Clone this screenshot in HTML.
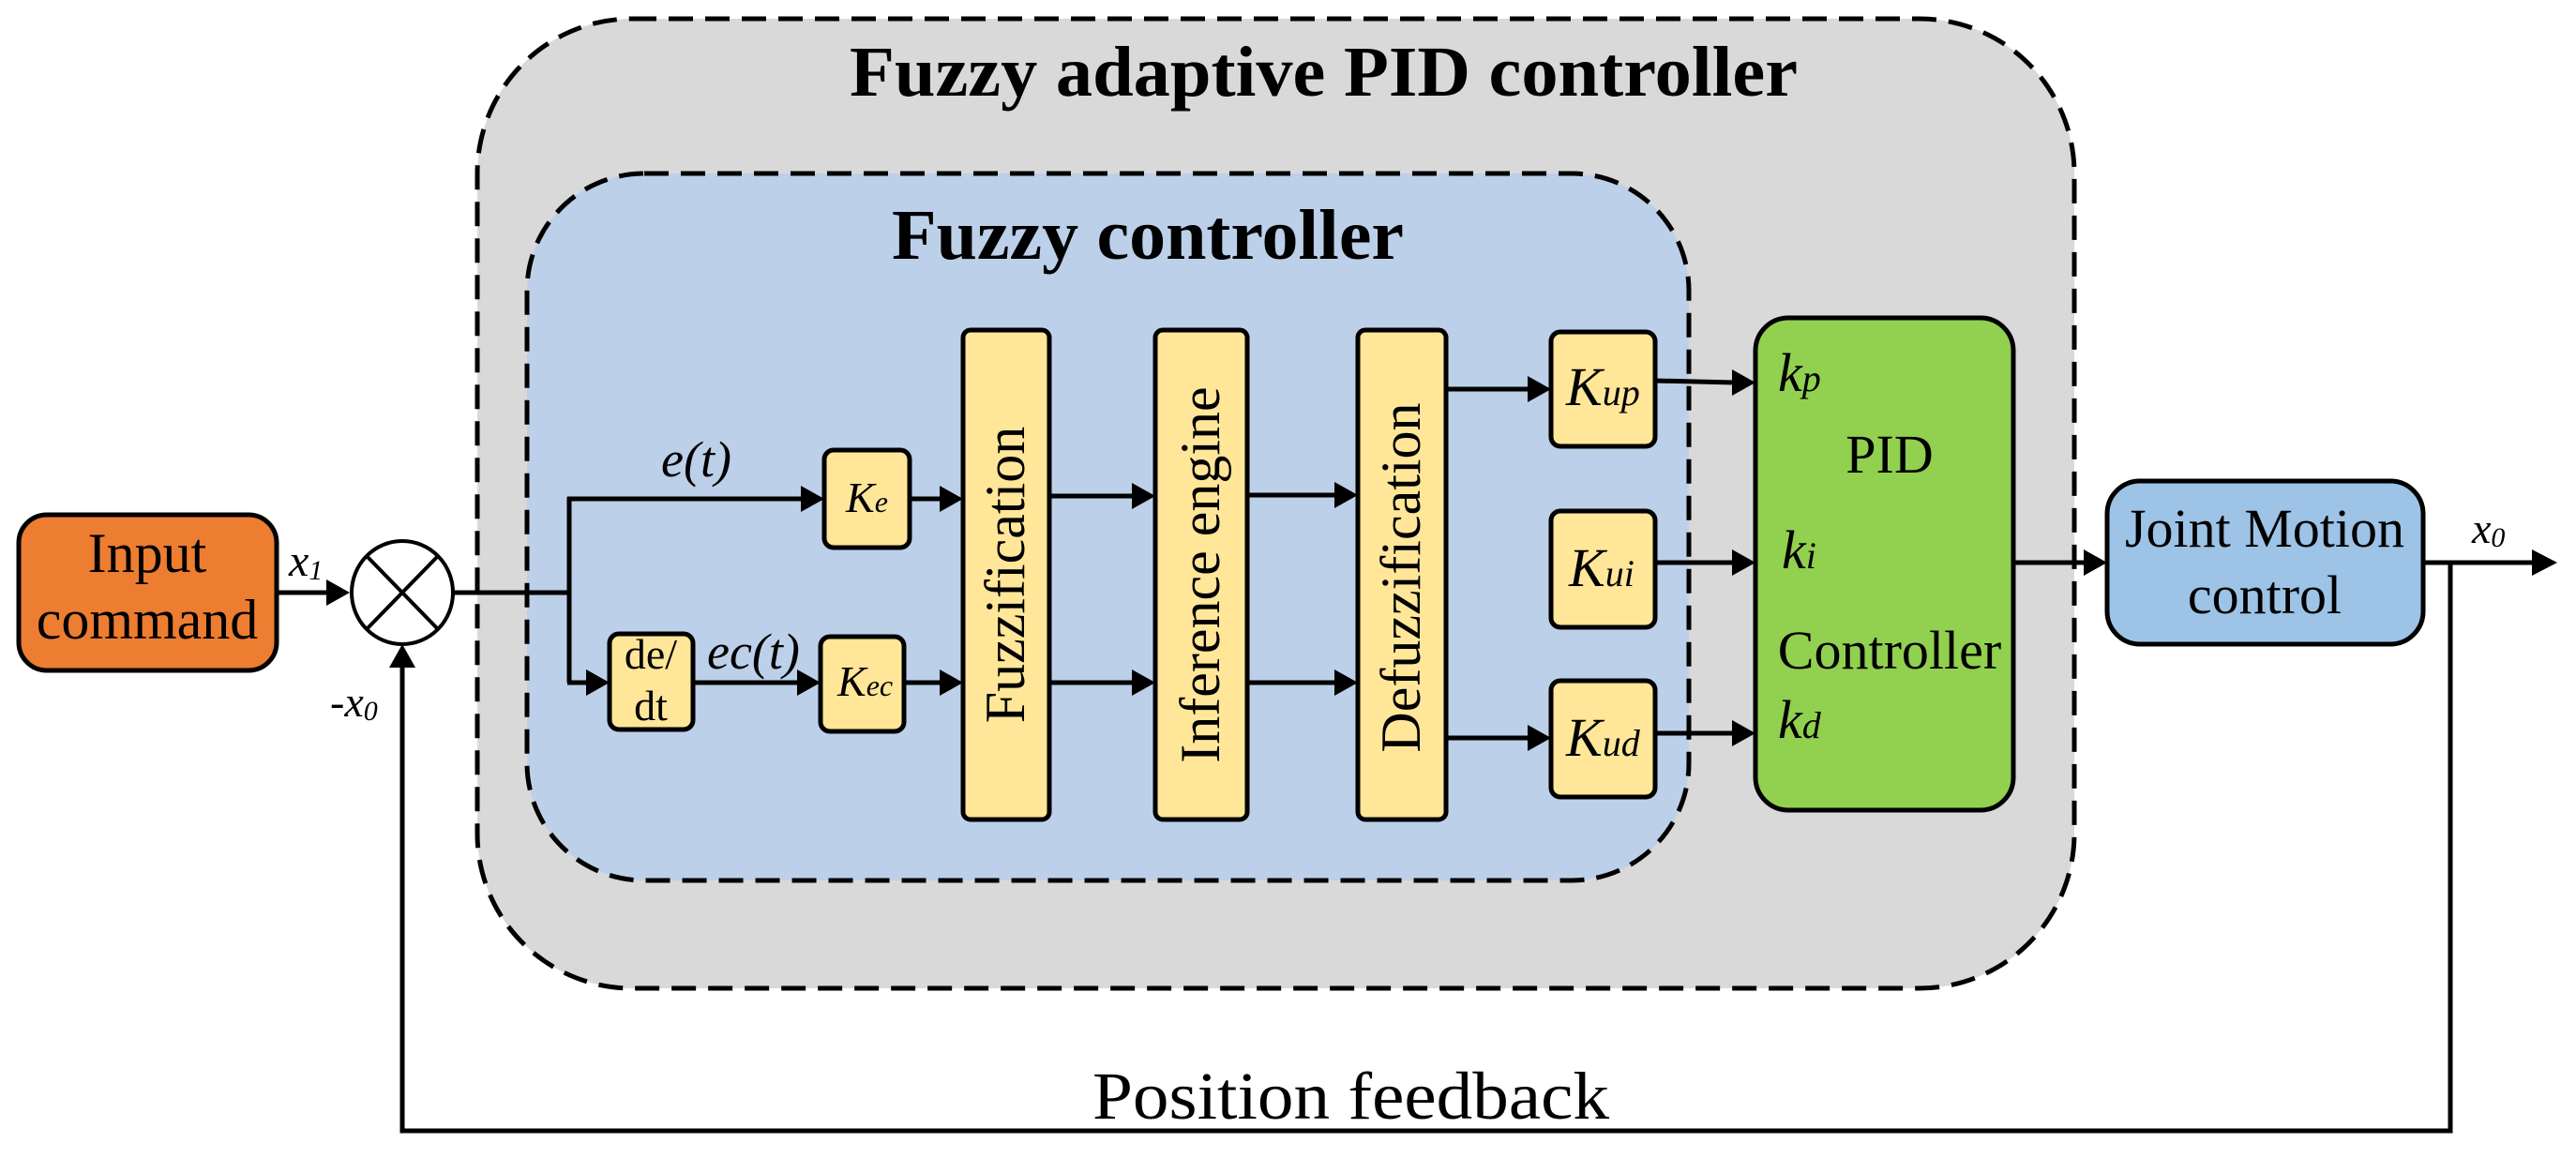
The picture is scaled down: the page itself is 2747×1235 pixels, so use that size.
<!DOCTYPE html>
<html><head><meta charset="utf-8"><style>
html,body{margin:0;padding:0;background:#fff}
svg{display:block}
svg text{font-family:"Liberation Serif","Times New Roman",serif !important;fill:#000}
.i{font-style:italic}
</style></head><body>
<svg width="2747" height="1235" viewBox="0 0 2747 1235" xmlns="http://www.w3.org/2000/svg" font-family="Liberation Serif, serif">
<!-- outer container -->
<rect x="509" y="20" width="1703" height="1034" rx="165" ry="165" fill="#D9D9D9" stroke="#000" stroke-width="5" stroke-dasharray="26 13"/>
<text x="906" y="102" font-family="Liberation Serif, serif" font-size="76" font-weight="bold" textLength="1011" lengthAdjust="spacingAndGlyphs">Fuzzy adaptive PID controller</text>
<!-- inner container -->
<rect x="562" y="185" width="1239" height="754" rx="125" ry="125" fill="#BDD0E9" stroke="#000" stroke-width="5" stroke-dasharray="26 13"/>
<text x="951" y="276" font-family="Liberation Serif, serif" font-size="76" font-weight="bold" textLength="546" lengthAdjust="spacingAndGlyphs">Fuzzy controller</text>

<g stroke="#000" stroke-width="5" fill="none">
<line x1="295" y1="632" x2="350" y2="632"/>
<line x1="483" y1="632" x2="607" y2="632"/>
<line x1="607" y1="530" x2="607" y2="728"/>
<line x1="605" y1="532" x2="855" y2="532"/>
<line x1="605" y1="728" x2="628" y2="728"/>
<line x1="739" y1="728" x2="852" y2="728"/>
<line x1="970" y1="532" x2="1005" y2="532"/>
<line x1="964" y1="728" x2="1005" y2="728"/>
<line x1="1119" y1="529" x2="1210" y2="529"/>
<line x1="1119" y1="728" x2="1210" y2="728"/>
<line x1="1330" y1="528" x2="1426" y2="528"/>
<line x1="1330" y1="728" x2="1426" y2="728"/>
<line x1="1542" y1="415" x2="1632" y2="415"/>
<line x1="1542" y1="787" x2="1632" y2="787"/>
<line x1="1765" y1="406" x2="1850" y2="408"/>
<line x1="1765" y1="600" x2="1850" y2="600"/>
<line x1="1765" y1="782" x2="1850" y2="782"/>
<line x1="2147" y1="600" x2="2225" y2="600"/>
<line x1="2584" y1="600" x2="2703" y2="600"/>
<polyline points="2613,600 2613,1206 429,1206 429,709"/>
</g>
<g fill="#000">
<polygon points="373,632 348,618 348,646"/>
<polygon points="879,532 854,518 854,546"/>
<polygon points="650,728 625,714 625,742"/>
<polygon points="875,728 850,714 850,742"/>
<polygon points="1027,532 1002,518 1002,546"/>
<polygon points="1027,728 1002,714 1002,742"/>
<polygon points="1232,529 1207,515 1207,543"/>
<polygon points="1232,728 1207,714 1207,742"/>
<polygon points="1448,528 1423,514 1423,542"/>
<polygon points="1448,728 1423,714 1423,742"/>
<polygon points="1654,415 1629,401 1629,429"/>
<polygon points="1654,787 1629,773 1629,801"/>
<polygon points="1872,408 1847,394 1847,422"/>
<polygon points="1872,600 1847,586 1847,614"/>
<polygon points="1872,782 1847,768 1847,796"/>
<polygon points="2247,600 2222,586 2222,614"/>
<polygon points="2727,600 2700,586 2700,614"/>
<polygon points="429,687 415,712 443,712"/>
</g>

<g font-family="Liberation Serif, serif">
<rect x="20" y="549" width="275" height="166" rx="30" fill="#ED7D31" stroke="#000" stroke-width="5"/>
<text x="157" y="610" font-size="60" text-anchor="middle">Input</text>
<text x="157" y="681" font-size="60" text-anchor="middle">command</text>
<text x="308" y="614" font-size="48" class="i">x<tspan font-size="30" dy="4">1</tspan></text>
<text x="352" y="764" font-size="46" class="i">-x<tspan font-size="30" dy="4">0</tspan></text>

<ellipse cx="429" cy="632" rx="54" ry="55" fill="#fff" stroke="#000" stroke-width="4"/>
<line x1="391" y1="593" x2="467" y2="671" stroke="#000" stroke-width="4"/>
<line x1="467" y1="593" x2="391" y2="671" stroke="#000" stroke-width="4"/>

<text x="705" y="508" font-size="54" class="i">e(t)</text>
<text x="754" y="713" font-size="54" class="i">ec(t)</text>

<g stroke="#000" stroke-width="5" fill="#FFE699">
<rect x="879" y="480" width="91" height="104" rx="10"/>
<rect x="650" y="676" width="89" height="102" rx="10"/>
<rect x="875" y="679" width="89" height="101" rx="10"/>
<rect x="1027" y="352" width="92" height="522" rx="8"/>
<rect x="1232" y="352" width="98" height="522" rx="8"/>
<rect x="1448" y="352" width="94" height="522" rx="8"/>
<rect x="1654" y="354" width="111" height="122" rx="10"/>
<rect x="1654" y="545" width="111" height="124" rx="10"/>
<rect x="1654" y="726" width="111" height="124" rx="10"/>
</g>
<text x="902" y="546" font-size="46" class="i">K<tspan font-size="32">e</tspan></text>
<text x="893" y="742" font-size="46" class="i">K<tspan font-size="32">ec</tspan></text>
<text x="694" y="713" font-size="46" text-anchor="middle">de/</text>
<text x="694" y="768" font-size="46" text-anchor="middle">dt</text>
<text transform="translate(1092,613) rotate(-90)" font-size="60" text-anchor="middle">Fuzzification</text>
<text transform="translate(1300,613) rotate(-90)" font-size="60" text-anchor="middle">Inference engine</text>
<text transform="translate(1514,616) rotate(-90)" font-size="60" text-anchor="middle">Defuzzification</text>
<text x="1670" y="432" font-size="58" class="i">K<tspan font-size="40">up</tspan></text>
<text x="1673" y="625" font-size="58" class="i">K<tspan font-size="40">ui</tspan></text>
<text x="1670" y="806" font-size="58" class="i">K<tspan font-size="40">ud</tspan></text>

<rect x="1872" y="339" width="275" height="525" rx="35" fill="#92D050" stroke="#000" stroke-width="5"/>
<text x="1896" y="417" font-size="58" class="i">k<tspan font-size="40">p</tspan></text>
<text x="1900" y="606" font-size="58" class="i">k<tspan font-size="40">i</tspan></text>
<text x="1896" y="787" font-size="58" class="i">k<tspan font-size="40">d</tspan></text>
<text x="2015" y="504" font-size="58" text-anchor="middle">PID</text>
<text x="2015" y="713" font-size="58" text-anchor="middle">Controller</text>

<rect x="2247" y="513" width="337" height="174" rx="35" fill="#9DC3E6" stroke="#000" stroke-width="5"/>
<text x="2415" y="583" font-size="58" text-anchor="middle">Joint Motion</text>
<text x="2415" y="654" font-size="58" text-anchor="middle">control</text>
<text x="2636" y="579" font-size="46" class="i">x<tspan font-size="30" dy="4">0</tspan></text>

<text x="1165" y="1193" font-size="72" textLength="551" lengthAdjust="spacingAndGlyphs">Position feedback</text>
</g>
</svg>
</body></html>
